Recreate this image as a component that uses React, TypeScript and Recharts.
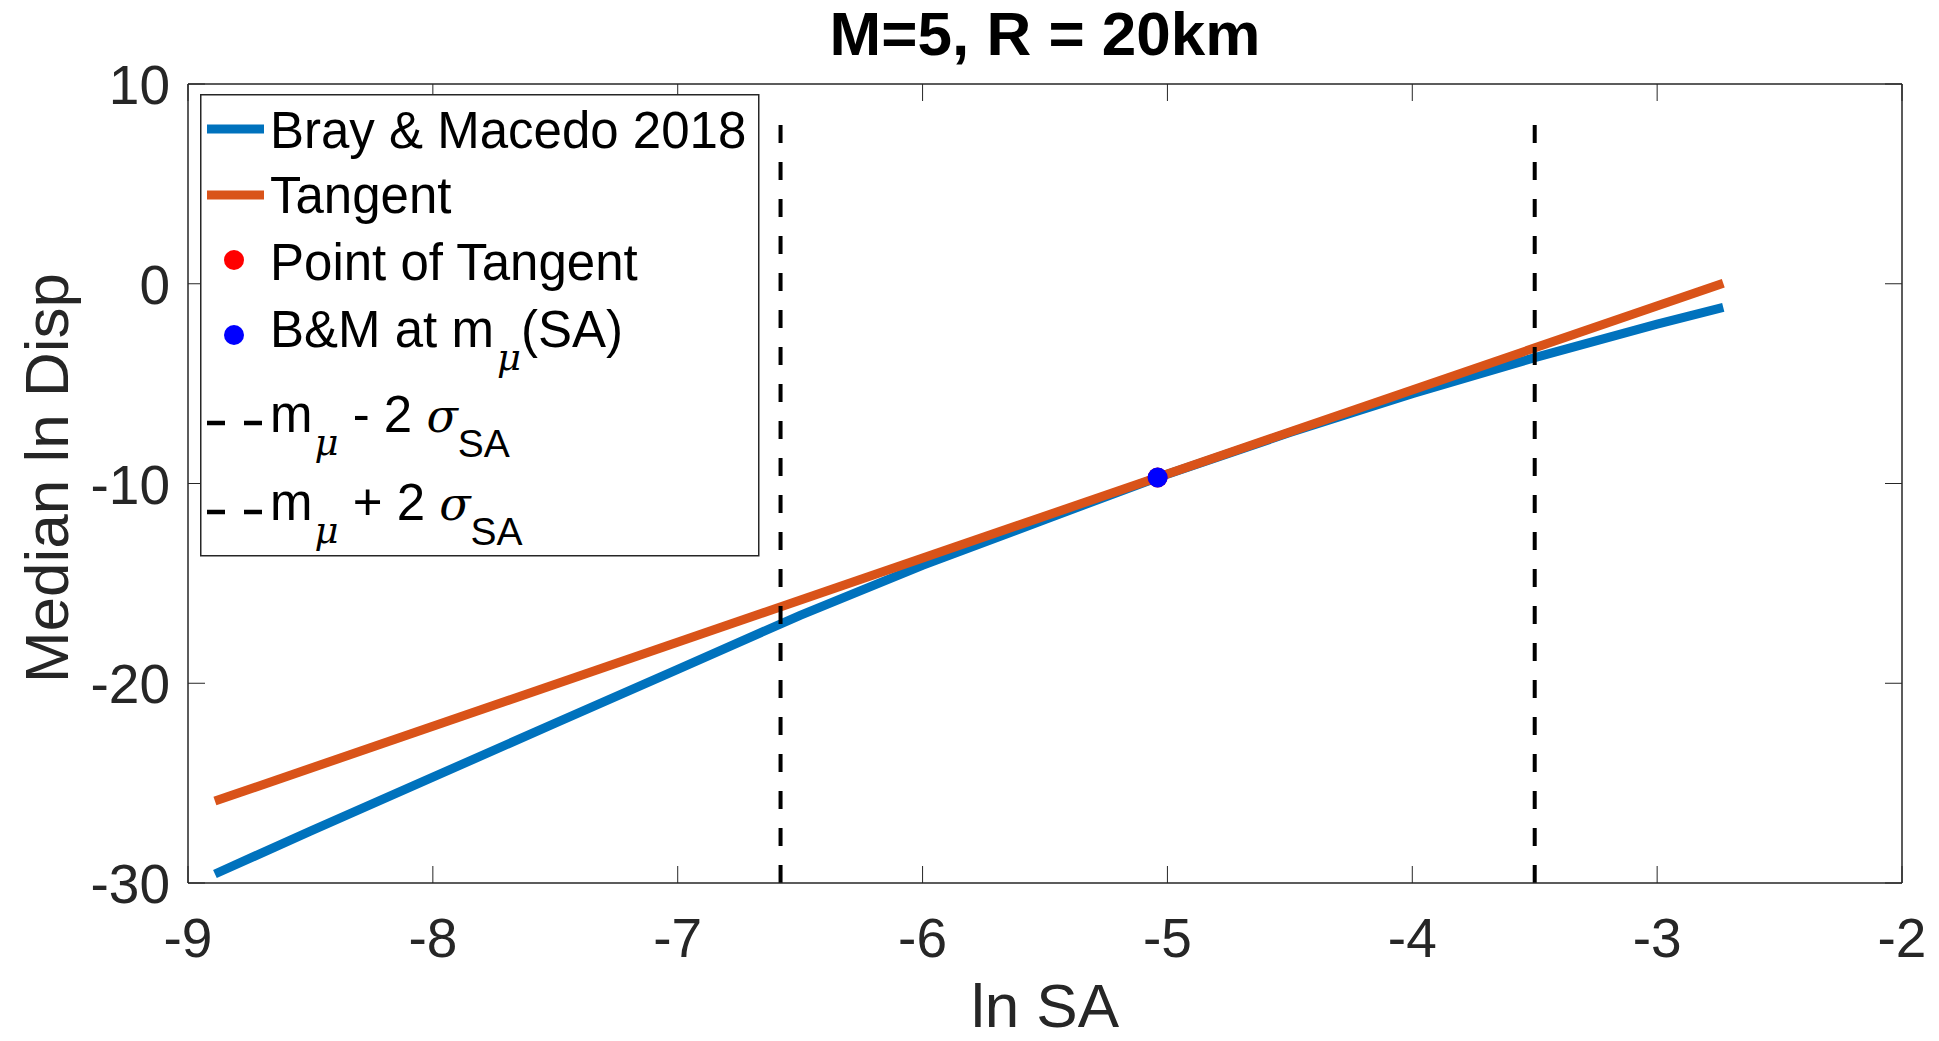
import React from "react";
import { ComposedChart, Line, Scatter, XAxis, YAxis, Legend } from "recharts";

const FONT = '"Liberation Sans", Arial, Helvetica, sans-serif';
const SERIF = '"DejaVu Serif", "Liberation Serif", serif';
const AXIS = "#262626";
const BLUE = "#0072BD";
const ORANGE = "#D95319";

const xTicks = [-9, -8, -7, -6, -5, -4, -3, -2];
const yTicks = [-30, -20, -10, 0, 10];

// Bray & Macedo 2018 median ln Disp vs ln SA
const lnSA = [-8.89, -8.5, -8, -7.5, -7, -6.5, -6, -5.5, -5.04, -4.5, -4, -3.5, -3, -2.73];
const bmDisp = [-29.55, -27.4, -24.7, -22.0, -19.3, -16.6, -14.1, -11.8, -9.7, -7.45, -5.5, -3.7, -2.02, -1.18];

// tangent line end points
const tangentSA = [-8.89, -2.73];
const tangentDisp = [-25.9, 0.03];

// point of tangent / B&M at m_mu(SA)
const muSA = -5.04;
const muDisp = -9.7;

// m_mu -/+ 2 sigma_SA
const lowerSA = -6.58;
const upperSA = -3.5;
const boundDisp = [-30, 8];

const bmData = lnSA.map((x, i) => ({ x, y: bmDisp[i] }));
const tangentData = tangentSA.map((x, i) => ({ x, y: tangentDisp[i] }));
const lowerData = boundDisp.map((y) => ({ x: lowerSA, y }));
const upperData = boundDisp.map((y) => ({ x: upperSA, y }));
const pointData = [{ x: muSA, y: muDisp }];

const BottomTick = ({ x, y, payload }: any) => (
    <g>
        <line x1={x} y1={y} x2={x} y2={y - 17} stroke={AXIS} strokeWidth={1} />
        <text x={x} y={y + 74} textAnchor="middle" fontSize={55} fill={AXIS} fontFamily={FONT}>
            {payload.value}
        </text>
    </g>
);

const LeftTick = ({ x, y, payload }: any) => (
    <g>
        <line x1={x} y1={y} x2={x + 17} y2={y} stroke={AXIS} strokeWidth={1} />
        <text x={x - 18} y={y + 20} textAnchor="end" fontSize={55} fill={AXIS} fontFamily={FONT}>
            {payload.value}
        </text>
    </g>
);

const TopTick = ({ x, y }: any) => <line x1={x} y1={y} x2={x} y2={y + 17} stroke={AXIS} strokeWidth={1} />;
const RightTick = ({ x, y }: any) => <line x1={x} y1={y} x2={x - 17} y2={y} stroke={AXIS} strokeWidth={1} />;

const Title = () => (
    <text x={1045} y={55} textAnchor="middle" fontSize={62} fontWeight="bold" fill="#000" fontFamily={FONT}>
        M=5, R = 20km
    </text>
);

const XLabel = () => (
    <text x={1045} y={1027} textAnchor="middle" fontSize={62} fill={AXIS} fontFamily={FONT}>
        ln SA
    </text>
);

const YLabel = () => (
    <text x={68} y={478} transform="rotate(-90 68 478)" textAnchor="middle" fontSize={62} fill={AXIS} fontFamily={FONT}>
        Median ln Disp
    </text>
);

const Dot = (color: string) => (p: any) => <circle cx={p.cx} cy={p.cy} r={10} fill={color} />;

const LegendBox = () => {
    const t = { fontSize: 51, fill: "#000", fontFamily: FONT };
    const sub = { fontSize: 37, fontFamily: SERIF, fontStyle: "italic" as const };
    const sig = { fontSize: 46, fontFamily: SERIF, fontStyle: "italic" as const };
    return (
        <svg width={560} height={464} style={{ display: "block" }}>
            <rect x={0.75} y={0.75} width={558} height={461} fill="#fff" stroke={AXIS} strokeWidth={1.5} />
            <line x1={7} x2={64} y1={35} y2={35} stroke={BLUE} strokeWidth={9} />
            <text x={70} y={54} {...t}>{"Bray & Macedo 2018"}</text>
            <line x1={7} x2={64} y1={101} y2={101} stroke={ORANGE} strokeWidth={9} />
            <text x={70} y={119} {...t}>Tangent</text>
            <circle cx={34} cy={166} r={10} fill="#FF0000" />
            <text x={70} y={186} {...t}>Point of Tangent</text>
            <circle cx={34} cy={241} r={10} fill="#0000FF" />
            <text x={70} y={253} {...t}>
                {"B&M at m"}
                <tspan dx={3} dy={23} {...sub}>μ</tspan>
                <tspan dy={-23} fontSize={51} fontFamily={FONT}>(SA)</tspan>
            </text>
            <line x1={7} x2={64} y1={329} y2={329} stroke="#000" strokeWidth={4.5} strokeDasharray="18 19" />
            <text x={70} y={338} {...t}>
                m
                <tspan dx={2} dy={23} {...sub}>μ</tspan>
                <tspan dy={-23} fontSize={51} fontFamily={FONT} fontStyle="normal">{"\u00a0- 2\u00a0"}</tspan>
                <tspan {...sig}>σ</tspan>
                <tspan dy={25} fontSize={39} fontFamily={FONT}>SA</tspan>
            </text>
            <line x1={7} x2={64} y1={418} y2={418} stroke="#000" strokeWidth={4.5} strokeDasharray="18 19" />
            <text x={70} y={426} {...t}>
                m
                <tspan dx={2} dy={23} {...sub}>μ</tspan>
                <tspan dy={-23} fontSize={51} fontFamily={FONT} fontStyle="normal">{"\u00a0+ 2\u00a0"}</tspan>
                <tspan {...sig}>σ</tspan>
                <tspan dy={25} fontSize={39} fontFamily={FONT}>SA</tspan>
            </text>
        </svg>
    );
};

export default function App() {
    return (
        <div style={{ position: "absolute", left: 0, top: 0, width: 1939, height: 1041, background: "#fff" }}>
            <ComposedChart width={1939} height={1041} margin={{ top: 83, right: 36, bottom: 0, left: 0 }}>
                <XAxis
                    xAxisId="b"
                    dataKey="x"
                    type="number"
                    domain={[-9, -2]}
                    ticks={xTicks}
                    interval={0}
                    allowDataOverflow
                    height={158}
                    tickSize={0}
                    tickMargin={0}
                    tickLine={false}
                    axisLine={{ stroke: AXIS, strokeWidth: 1.5 }}
                    tick={<BottomTick />}
                    label={<XLabel />}
                />
                <XAxis
                    xAxisId="t"
                    orientation="top"
                    dataKey="x"
                    type="number"
                    domain={[-9, -2]}
                    ticks={xTicks}
                    interval={0}
                    allowDataOverflow
                    height={1}
                    tickSize={0}
                    tickMargin={0}
                    tickLine={false}
                    axisLine={{ stroke: AXIS, strokeWidth: 1.5 }}
                    tick={<TopTick />}
                    label={<Title />}
                />
                <YAxis
                    yAxisId="l"
                    dataKey="y"
                    type="number"
                    domain={[-30, 10]}
                    ticks={yTicks}
                    interval={0}
                    allowDataOverflow
                    width={188}
                    tickSize={0}
                    tickMargin={0}
                    tickLine={false}
                    axisLine={{ stroke: AXIS, strokeWidth: 1.5 }}
                    tick={<LeftTick />}
                    label={<YLabel />}
                />
                <YAxis
                    yAxisId="r"
                    orientation="right"
                    dataKey="y"
                    type="number"
                    domain={[-30, 10]}
                    ticks={yTicks}
                    interval={0}
                    allowDataOverflow
                    width={1}
                    tickSize={0}
                    tickMargin={0}
                    tickLine={false}
                    axisLine={{ stroke: AXIS, strokeWidth: 1.5 }}
                    tick={<RightTick />}
                />
                <Line xAxisId="b" yAxisId="l" data={bmData} dataKey="y" type="linear" stroke={BLUE} strokeWidth={9} dot={false} activeDot={false} isAnimationActive={false} />
                <Line xAxisId="b" yAxisId="l" data={tangentData} dataKey="y" type="linear" stroke={ORANGE} strokeWidth={9} dot={false} activeDot={false} isAnimationActive={false} />
                <Scatter xAxisId="b" yAxisId="l" data={pointData} dataKey="y" fill="#FF0000" shape={Dot("#FF0000")} isAnimationActive={false} />
                <Scatter xAxisId="b" yAxisId="l" data={pointData} dataKey="y" fill="#0000FF" shape={Dot("#0000FF")} isAnimationActive={false} />
                <Line xAxisId="b" yAxisId="l" data={lowerData} dataKey="y" type="linear" stroke="#000" strokeWidth={4} strokeDasharray="18 19" dot={false} activeDot={false} isAnimationActive={false} />
                <Line xAxisId="b" yAxisId="l" data={upperData} dataKey="y" type="linear" stroke="#000" strokeWidth={4} strokeDasharray="18 19" dot={false} activeDot={false} isAnimationActive={false} />
                <Legend
                    layout="horizontal"
                    verticalAlign="middle"
                    align="center"
                    content={() => <LegendBox />}
                    wrapperStyle={{ left: 200, top: 94, width: 560, height: 464 }}
                />
            </ComposedChart>
        </div>
    );
}
